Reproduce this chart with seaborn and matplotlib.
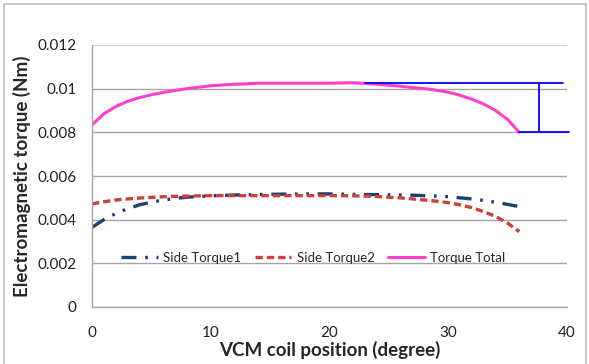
import matplotlib
matplotlib.use("Agg")
import matplotlib.pyplot as plt
import seaborn as sns
import pandas as pd
from matplotlib.patches import Rectangle

# ---- data ----
position = list(range(0, 37))
side_torque1 = [0.00365, 0.0040, 0.00428, 0.0045, 0.00468, 0.0048, 0.0049, 0.00497, 0.00503,
                0.00506, 0.00509, 0.00511, 0.00513, 0.00514, 0.00515, 0.00516, 0.00517, 0.00517,
                0.00518, 0.00518, 0.00518, 0.00517, 0.00516, 0.00515, 0.00515, 0.00514, 0.00513,
                0.00512, 0.0051, 0.00508, 0.00505, 0.0050, 0.00495, 0.00488, 0.0048, 0.0047, 0.0046]
side_torque2 = [0.00472, 0.00482, 0.0049, 0.00495, 0.00499, 0.00502, 0.00505, 0.00507, 0.00508,
                0.00509, 0.0051, 0.0051, 0.0051, 0.0051, 0.0051, 0.0051, 0.0051, 0.0051,
                0.0051, 0.0051, 0.0051, 0.0051, 0.00509, 0.00508, 0.00506, 0.00503, 0.0050,
                0.00495, 0.0049, 0.00485, 0.00478, 0.00468, 0.00455, 0.00437, 0.00415, 0.00385, 0.00345]
torque_total = [0.00834, 0.00885, 0.00918, 0.00942, 0.00959, 0.00972, 0.00983, 0.00992, 0.0100,
                0.01007, 0.01013, 0.01017, 0.0102, 0.01022, 0.01025, 0.01025, 0.01025, 0.01025,
                0.01025, 0.01025, 0.01025, 0.01026, 0.01027, 0.01024, 0.0102, 0.01016, 0.01011,
                0.01005, 0.0100, 0.00993, 0.00984, 0.0097, 0.00952, 0.0093, 0.0090, 0.0086, 0.0080]
series_names = ["Side Torque1", "Side Torque2", "Torque Total"]

# ripple bracket annotation
bracket_top = 0.01028
bracket_top_x = [23.0, 39.7]
bracket_bottom = 0.0080
bracket_bottom_x = [36.0, 40.2]
bracket_x = 37.7

x_ticks = [0, 10, 20, 30, 40]
y_ticks = [0, 0.002, 0.004, 0.006, 0.008, 0.01, 0.012]
y_tick_labels = ["0", "0.002", "0.004", "0.006", "0.008", "0.01", "0.012"]

sns.set_theme(style="white")
plt.rcParams['font.family'] = ['Lato', 'DejaVu Sans']

fig = plt.figure(figsize=(5.89, 3.64), dpi=100)
ax = fig.add_axes([92 / 589, 57 / 364, 474.7 / 589, 262 / 364])

fig.patches.append(Rectangle((4 / 589, -0.05), 582 / 589, (360 / 364) + 0.05,
                             transform=fig.transFigure, fill=False,
                             edgecolor="#bfbfbf", linewidth=1.2, zorder=0))

df1 = pd.DataFrame({"x": position, "y": side_torque1})
df2 = pd.DataFrame({"x": position, "y": side_torque2})
df3 = pd.DataFrame({"x": position, "y": torque_total})

sns.lineplot(data=df1, x="x", y="y", ax=ax, color="#1F3F6E", linewidth=2.4,
             label=series_names[0])
ax.lines[-1].set_dashes((4.5, 2.6, 0.8, 2.6, 0.8, 2.6))
sns.lineplot(data=df2, x="x", y="y", ax=ax, color="#CC3F3A", linewidth=2.4,
             label=series_names[1])
ax.lines[-1].set_dashes((2.2, 1.2))
sns.lineplot(data=df3, x="x", y="y", ax=ax, color="#FF3FCC", linewidth=2.2,
             label=series_names[2])

ax.plot(bracket_top_x, [bracket_top, bracket_top], color="#0000FF", linewidth=1.3, clip_on=False)
ax.plot(bracket_bottom_x, [bracket_bottom, bracket_bottom], color="#0000FF", linewidth=1.3, clip_on=False)
ax.plot([bracket_x, bracket_x], [bracket_bottom, bracket_top], color="#0000FF", linewidth=1.3, clip_on=False)

ax.set_xlim(0, 40)
ax.set_ylim(0, 0.012)
ax.set_xticks(x_ticks)
ax.set_xticklabels([str(t) for t in x_ticks])
ax.set_yticks(y_ticks)
ax.set_yticklabels(y_tick_labels)

ax.grid(axis="y", color="#a6a6a6", linewidth=1)
ax.grid(axis="x", visible=False)
ax.get_ygridlines()[-1].set_color("#d0d0d0")
ax.get_ygridlines()[-1].set_linewidth(1.6)

for s in ["top", "right"]:
    ax.spines[s].set_visible(False)
for s in ["left", "bottom"]:
    ax.spines[s].set_color("#a6a6a6")
    ax.spines[s].set_linewidth(1)

ax.tick_params(axis="both", which="major", direction="out", length=5, width=1,
               color="#a6a6a6", labelsize=11, labelcolor="#222222", pad=6)
ax.tick_params(axis="x", pad=9)

ax.set_xlabel("VCM coil position (degree)", fontsize=13.5, fontweight="bold", labelpad=0)
ax.set_ylabel("Electromagnetic torque (Nm)", fontsize=13.5, fontweight="bold", labelpad=5)

leg = ax.legend(loc="center", bbox_to_anchor=(0.466, 0.187), ncol=3, frameon=False,
                fontsize=9.5, handlelength=2.8, columnspacing=1.0, handletextpad=0.4)

fig.savefig("out.png", dpi=100)
